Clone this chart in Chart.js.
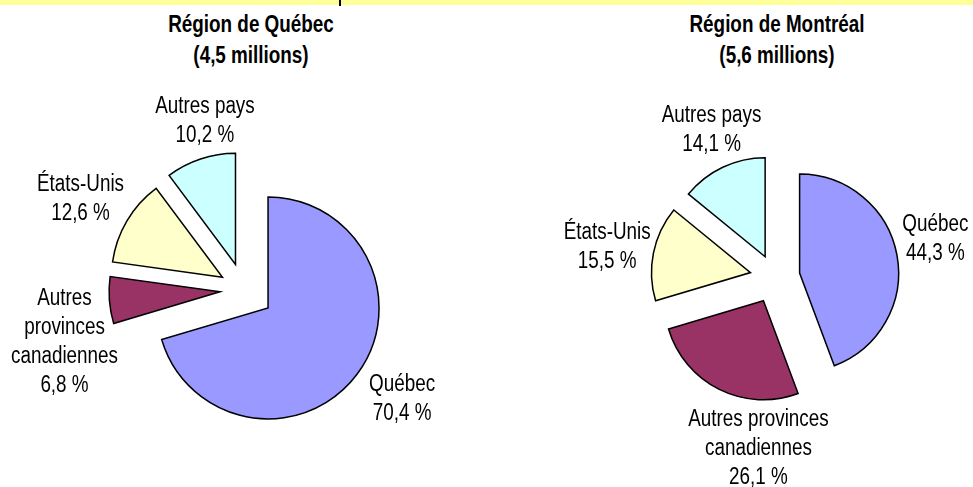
<!DOCTYPE html>
<html lang="fr">
<head>
<meta charset="utf-8">
<script src="https://cdn.jsdelivr.net/npm/chart.js@4.4.1/dist/chart.umd.min.js"></script>
<style>
  html, body { margin: 0; padding: 0; background: #fff; }
  #page { position: relative; width: 973px; height: 487px; overflow: hidden; }
  #band { position: absolute; left: 0; top: 0; width: 973px; height: 5px; background: #ffff99; }
  #tick { position: absolute; left: 339px; top: 0; width: 2px; height: 6px; background: #000; }
  .title { position: absolute; width: 300px; text-align: center; font-weight: bold;
           font-size: 23px; line-height: 23px; color: #000; white-space: nowrap; }
  canvas { position: absolute; top: 0; }
</style>
</head>
<body>
<div id="page">
  <div id="band"></div>
  <div id="tick"></div>
  <div class="title" id="t1a" style="left:101px; top:13px;"></div>
  <div class="title" id="t1b" style="left:101px; top:44px;"></div>
  <div class="title" id="t2a" style="left:627px; top:13px;"></div>
  <div class="title" id="t2b" style="left:627px; top:44px;"></div>
  <canvas id="pieQuebec" width="488" height="487" style="left:0px;"></canvas>
  <canvas id="pieMontreal" width="485" height="487" style="left:488px;"></canvas>
</div>
<script>
// data
const categories = ["Québec", "Autres provinces canadiennes", "États-Unis", "Autres pays"];
const quebecShares = [70.4, 6.8, 12.6, 10.2];
const montrealShares = [44.3, 26.1, 15.5, 14.1];
const regionTitles = ["Région de Québec", "Région de Montréal"];
const populations = ["(4,5 millions)", "(5,6 millions)"];
// how each category name is broken on lines in the two pies
const quebecLabelLines = [["Québec"], ["Autres", "provinces", "canadiennes"], ["États-Unis"], ["Autres pays"]];
const montrealLabelLines = [["Québec"], ["Autres provinces", "canadiennes"], ["États-Unis"], ["Autres pays"]];

// styles
const sliceColors = ["#9999ff", "#993366", "#ffffcc", "#ccffff"];
const quebecExplode = [30, 24, 25, 27];
const montrealExplode = [25, 26, 25, 23];
const quebecNudges = [[13, 1], [-5, 39], [-12, -1], [17, 0]];
const montrealNudges = [[-1, -9], [57, 23], [-7, 2], [6, -1]];

// Arial Narrow look-alike, squeeze the regular face if the narrow one is missing
function hasFont(name) {
  const c = document.createElement("canvas").getContext("2d");
  c.font = '23px "' + name + '", monospace';
  const a = c.measureText("Autres pays 10,2 %").width;
  c.font = "23px monospace";
  return a !== c.measureText("Autres pays 10,2 %").width;
}
const narrow = hasFont("Liberation Sans Narrow");
const fontFamily = narrow ? '"Liberation Sans Narrow"' : '"Liberation Sans"';
const scaleX = narrow ? 1 : 0.82;

document.getElementById("t1a").textContent = regionTitles[0];
document.getElementById("t1b").textContent = populations[0];
document.getElementById("t2a").textContent = regionTitles[1];
document.getElementById("t2b").textContent = populations[1];
document.querySelectorAll(".title").forEach(el => {
  el.style.fontFamily = fontFamily;
  el.style.transform = "scaleX(" + scaleX + ")";
});

function formatPercent(v) {
  return v.toFixed(1).replace(".", ",") + " %";
}

const explodePlugin = {
  id: "explode",
  afterDatasetUpdate(chart, args, opts) {
    args.meta.data.forEach((arc, i) => {
      const mid = (arc.startAngle + arc.endAngle) / 2;
      const e = opts.amounts[i] || 0;
      arc.x += Math.cos(mid) * e;
      arc.y += Math.sin(mid) * e;
    });
  }
};

const sliceLabelPlugin = {
  id: "sliceLabels",
  afterDatasetsDraw(chart, args, opts) {
    const ctx = chart.ctx;
    const meta = chart.getDatasetMeta(0);
    const values = chart.data.datasets[0].data;
    ctx.save();
    ctx.font = opts.size + "px " + fontFamily;
    ctx.fillStyle = "#000";
    ctx.textAlign = "center";
    ctx.textBaseline = "middle";
    meta.data.forEach((arc, i) => {
      const mid = (arc.startAngle + arc.endAngle) / 2;
      const dist = arc.outerRadius + opts.gap;
      const cx = arc.x + Math.cos(mid) * dist + opts.nudges[i][0];
      const cy = arc.y + Math.sin(mid) * dist + opts.nudges[i][1];
      const lines = opts.lines[i].concat(formatPercent(values[i]));
      const top = cy - (lines.length - 1) * opts.lineHeight / 2;
      lines.forEach((line, k) => {
        ctx.save();
        ctx.translate(cx, top + k * opts.lineHeight);
        ctx.scale(scaleX, 1);
        ctx.fillText(line, 0, 0);
        ctx.restore();
      });
    });
    ctx.restore();
  }
};

function makePie(id, values, explode, lines, nudges, radius, padding) {
  return new Chart(document.getElementById(id), {
    type: "pie",
    data: {
      labels: categories,
      datasets: [{
        data: values,
        backgroundColor: sliceColors,
        borderColor: "#000",
        borderWidth: 1.5,
        borderJoinStyle: "miter",
        clip: false
      }]
    },
    options: {
      responsive: false,
      animation: false,
      events: [],
      radius: radius,
      layout: { padding: padding },
      plugins: {
        legend: { display: false },
        tooltip: { enabled: false },
        explode: { amounts: explode },
        sliceLabels: { lines: lines, nudges: nudges, gap: 40, size: 23, lineHeight: 29 }
      }
    },
    plugins: [explodePlugin, sliceLabelPlugin]
  });
}

makePie("pieQuebec", quebecShares, quebecExplode, quebecLabelLines, quebecNudges, 111,
  { top: 93, bottom: 0, left: 0, right: 0 });
makePie("pieMontreal", montrealShares, montrealExplode, montrealLabelLines, montrealNudges, 99,
  { top: 68, bottom: 0, left: 89, right: 0 });
</script>
</body>
</html>
